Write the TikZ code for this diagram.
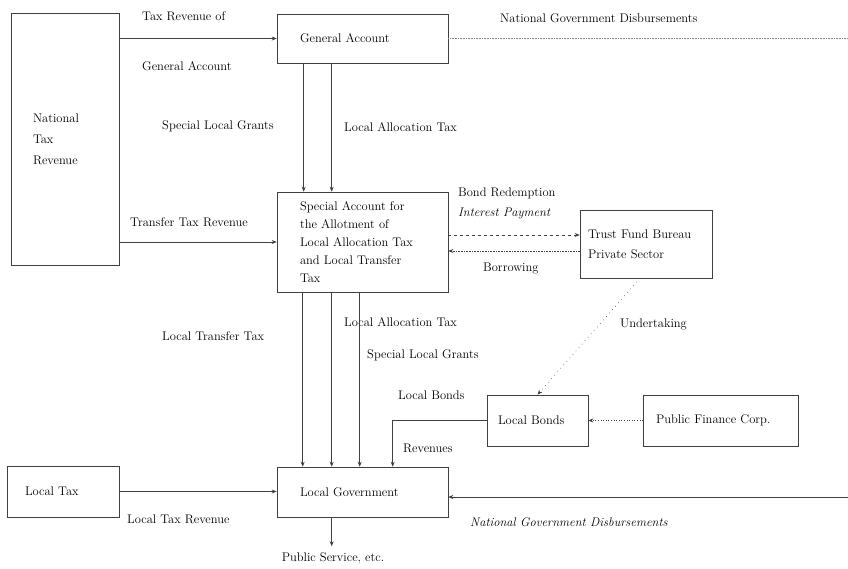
\documentclass[tikz,border=0pt]{standalone}
\usepackage{tikz}
\usetikzlibrary{arrows.meta}
\tikzset{
	>={Stealth[length=5pt,width=4pt]}, % small bold arrow heads
	box/.style={draw=black!75, line width=0.6pt, rectangle, align=left, inner ysep=0pt}, % every account box
	lbl/.style={anchor=west, inner sep=0pt}, % labels beside the flows
	flow/.style={->, line width=0.6pt, black!75}, % directed flows
}

\begin{document}
\begin{tikzpicture}[x=1pt, y=-1pt, font=\fontsize{12.5}{18}\selectfont]
	\useasboundingbox (0,0) rectangle (848,569);
	% boxes
	\node[box, minimum width=108pt, minimum height=252pt, text width=64pt, inner xsep=22pt] (nat) at (65,139) {National\\[3pt]Tax\\[3pt]Revenue};
	\node[box, minimum width=171pt, minimum height=49pt, text width=125pt, inner xsep=23pt] (gen) at (362.5,38.5) {General Account};
	\node[box, minimum width=171pt, minimum height=100pt, text width=125pt, inner xsep=23pt] (sa) at (362.5,242) {Special Account for\\the Allotment of\\Local Allocation Tax\\and Local Transfer\\Tax};
	\node[box, minimum width=132pt, minimum height=68pt, text width=116pt, inner xsep=8pt] (trust) at (646,244) {Trust Fund Bureau\\[2pt]Private Sector};
	\node[box, minimum width=101pt, minimum height=51pt, text width=79pt, inner xsep=11pt] (lb) at (537.5,420.5) {Local Bonds};
	\node[box, minimum width=155pt, minimum height=51pt, text width=129pt, inner xsep=13pt] (pfc) at (720.5,420.5) {Public Finance Corp.};
	\node[box, minimum width=171pt, minimum height=50pt, text width=125pt, inner xsep=23pt] (lg) at (362.5,492) {Local Government};
	\node[box, minimum width=112pt, minimum height=51pt, text width=76pt, inner xsep=18pt] (lt) at (63,491.5) {Local Tax};
	\node[inner sep=0pt] (ps) at (333,558) {Public Service, etc.};
	\coordinate (ndt) at (848,40);
	\coordinate (ndb) at (848,497);

	% labels
	\node[lbl] (l1) at (142,16) {Tax Revenue of};
	\node[lbl] (l2) at (142,66) {General Account};
	\node[lbl] (l3) at (162,126) {Special Local Grants};
	\node[lbl] (l4) at (344,127) {Local Allocation Tax};
	\node[lbl] (l5) at (130,222) {Transfer Tax Revenue};
	\node[lbl] (l6) at (458,193) {Bond Redemption};
	\node[lbl] (l7) at (458,214) {\itshape Interest Payment};
	\node[lbl] (l8) at (483,269) {Borrowing};
	\node[lbl] (l9) at (620,324) {Undertaking};
	\node[lbl] (l10) at (162,336) {Local Transfer Tax};
	\node[lbl] (l11) at (344,322) {Local Allocation Tax};
	\node[lbl] (l12) at (367,355) {Special Local Grants};
	\node[lbl] (l13) at (398,395) {Local Bonds};
	\node[lbl] (l14) at (403,448) {Revenues};
	\node[lbl] (l15) at (127,519) {Local Tax Revenue};
	\node[lbl] (l16) at (470,522) {\itshape National Government Disbursements};
	\node[lbl] (l17) at (500,18) {National Government Disbursements};

	% flows
	\draw[flow] (nat.east |- gen.west) -- (gen.west);
	\draw[flow] (nat.east |- sa.west) -- (sa.west);
	\foreach \dx in {27,55}
		\draw[flow] ([xshift=\dx pt]gen.south west) -- ([xshift=\dx pt]sa.north west);
	\foreach \dx in {26,55,83}
		\draw[flow] ([xshift=\dx pt]sa.south west) -- ([xshift=\dx pt]lg.north west);
	\draw[flow, dashed] ([yshift=9pt]trust.west -| sa.east) -- ([yshift=9pt]trust.west);
	\draw[flow, densely dotted] ([yshift=-7pt]trust.west) -- ([yshift=-7pt]trust.west -| sa.east);
	\draw[flow, loosely dotted] ([xshift=-6pt]trust.south) -- (lb.north);
	\draw[flow, dotted] (pfc.west) -- (lb.east);
	\draw[flow] (lb.west) -| ([xshift=116pt]lg.north west);
	\draw[flow] (lt.east) -- (lt.east -| lg.west);
	\draw[flow] (ndb) -- (ndb -| lg.east);
	\draw[line width=0.6pt, black!50, densely dotted] (gen.east) -- (gen.east -| ndt);
	\draw[flow, shorten >=6pt] ([xshift=55pt]lg.south west) -- ([xshift=55pt]lg.south west |- ps.north);
\end{tikzpicture}
\end{document}
